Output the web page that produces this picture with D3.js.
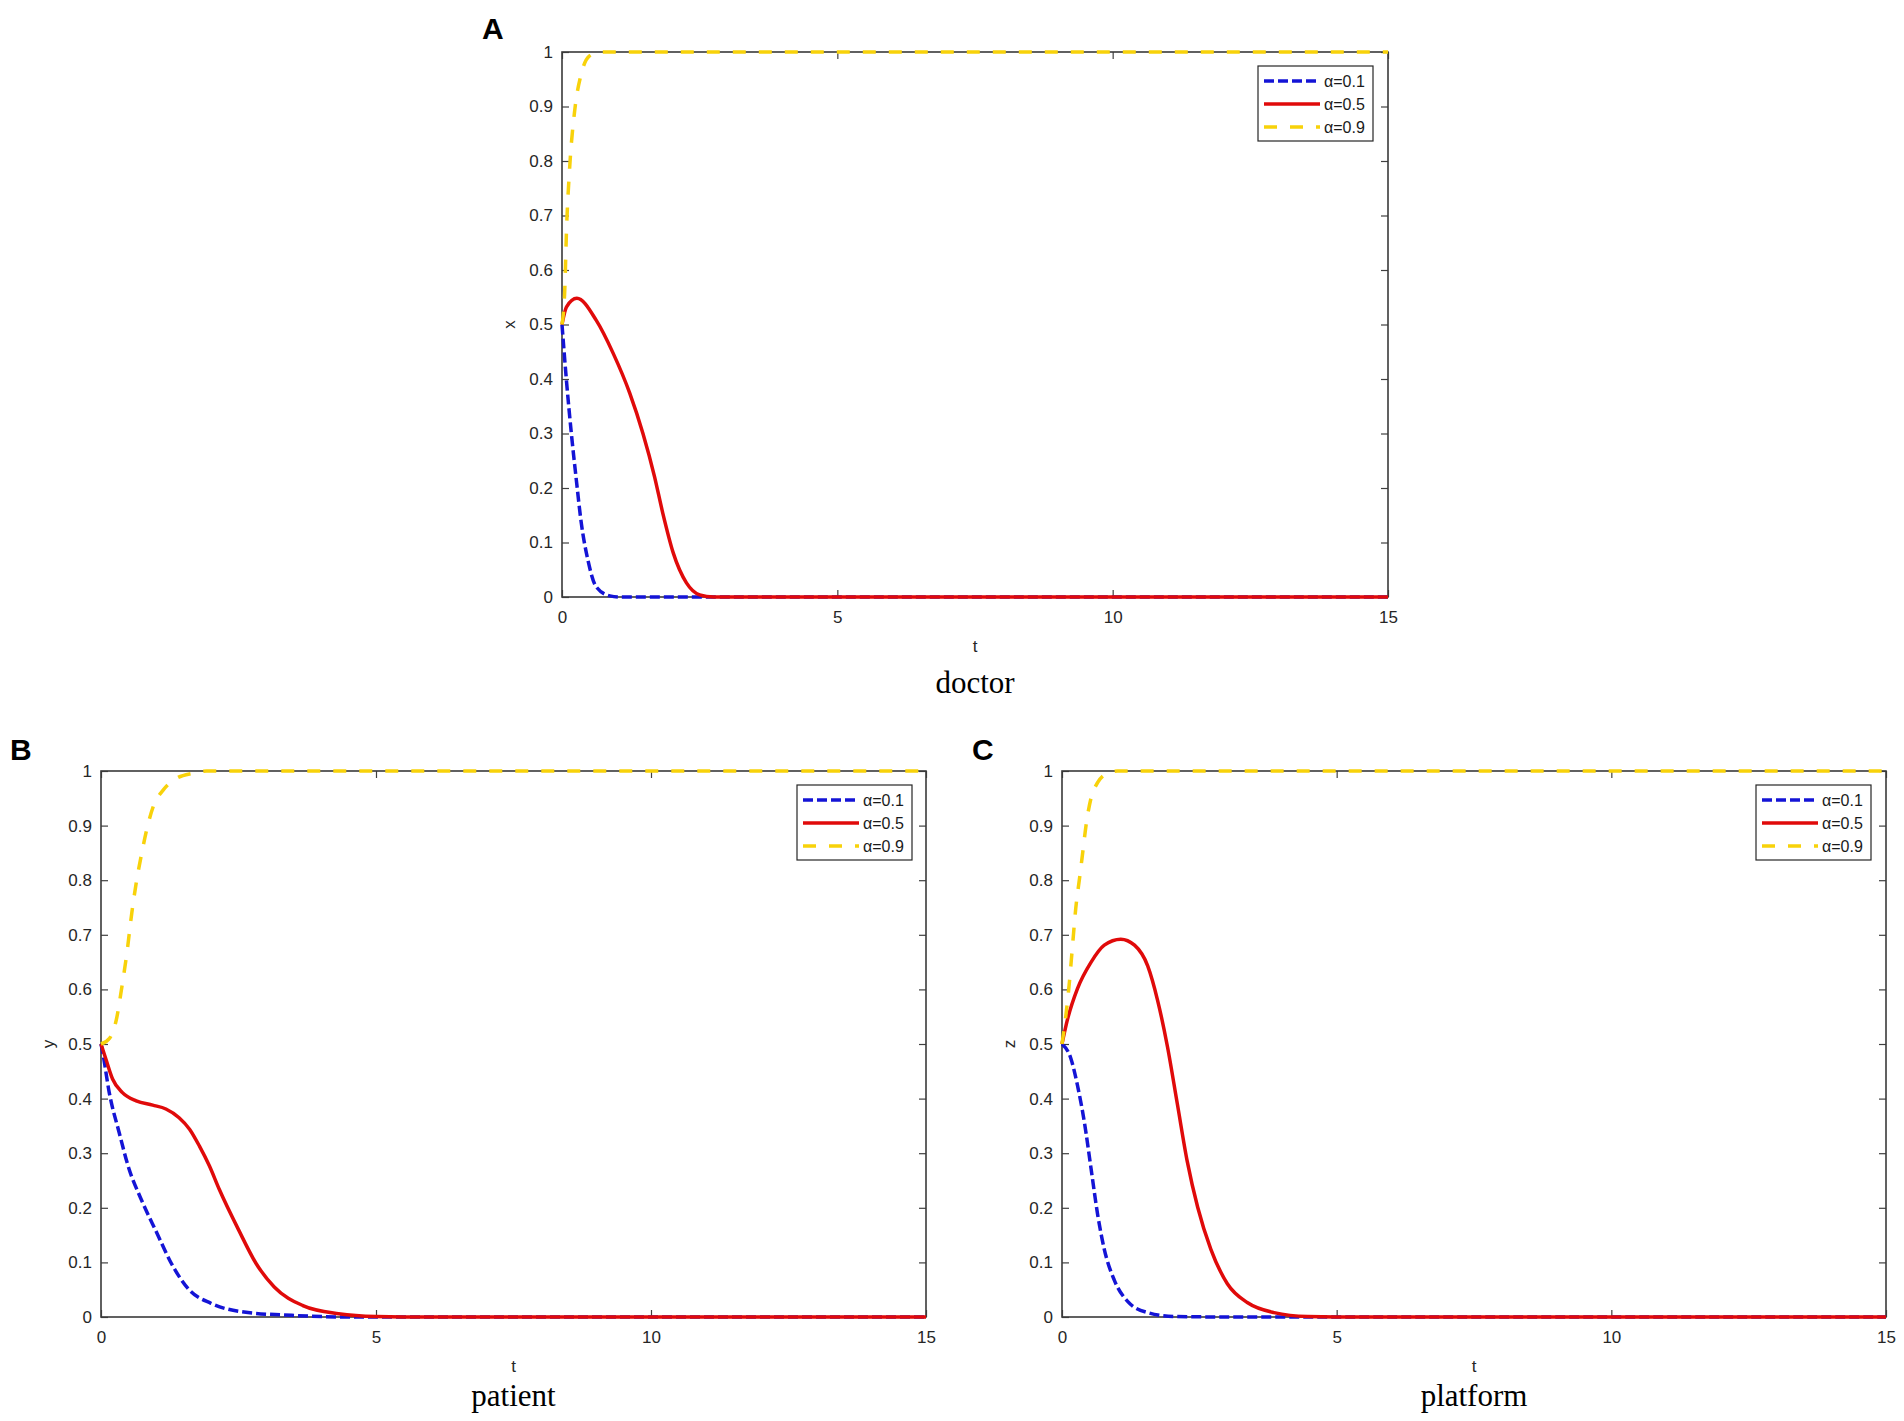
<!DOCTYPE html>
<html lang="en">
<head>
    <meta charset="UTF-8">
    <title>doctor / patient / platform</title>
    <script src="https://cdn.jsdelivr.net/npm/d3@7"></script>
    <style>
        body {margin: 0; background: white;}
        svg {display: block; background: white;}
        .tick text {font-family: "Liberation Sans", Arial, sans-serif; font-size: 17px; fill: #262626;}
        .tick line {stroke: #404040; stroke-width: 1.2;}
    </style>
</head>
<body>
<script>
    const width = 1904;
    const height = 1421;

    // [t, value]
    const doctor01 = [[0,0.5],[0.08,0.398],[0.17,0.300],[0.26,0.215],[0.35,0.136],[0.47,0.068],[0.62,0.019],[0.87,0.002],[1.05,0],[15,0]];
    const doctor05 = [[0,0.5],[0.08,0.532],[0.27,0.548],[0.62,0.508],[0.93,0.447],[1.23,0.374],[1.47,0.300],[1.68,0.221],[1.83,0.154],[2.02,0.081],[2.26,0.026],[2.5,0.004],[2.75,0],[15,0]];
    const doctor09 = [[0,0.5],[0.05,0.563],[0.08,0.667],[0.14,0.789],[0.23,0.892],[0.35,0.96],[0.5,0.993],[0.68,1],[15,1]];

    const patient01 = [[0,0.5],[0.03,0.485],[0.15,0.411],[0.33,0.338],[0.51,0.271],[0.72,0.218],[1.02,0.153],[1.28,0.098],[1.61,0.049],[2.0,0.025],[2.6,0.009],[3.47,0.003],[4.5,0],[15,0]];
    const patient05 = [[0,0.5],[0.09,0.472],[0.21,0.436],[0.39,0.411],[0.64,0.396],[0.94,0.388],[1.18,0.381],[1.42,0.365],[1.61,0.344],[1.79,0.313],[1.97,0.277],[2.15,0.234],[2.5,0.16],[2.82,0.098],[3.15,0.055],[3.67,0.021],[4.32,0.006],[5,0.001],[6,0],[15,0]];
    const patient09 = [[0,0.5],[0.16,0.511],[0.28,0.545],[0.38,0.605],[0.47,0.666],[0.56,0.74],[0.65,0.801],[0.74,0.849],[0.83,0.892],[0.95,0.935],[1.13,0.965],[1.38,0.987],[1.68,0.996],[1.92,1],[15,1]];

    const platform01 = [[0,0.5],[0.16,0.474],[0.28,0.425],[0.41,0.355],[0.53,0.271],[0.65,0.187],[0.77,0.124],[0.95,0.068],[1.19,0.029],[1.56,0.008],[2.04,0.001],[3,0],[15,0]];
    const platform05 = [[0,0.5],[0.1,0.545],[0.28,0.601],[0.53,0.65],[0.77,0.681],[1.07,0.692],[1.32,0.681],[1.56,0.643],[1.74,0.58],[1.92,0.495],[2.1,0.39],[2.28,0.285],[2.47,0.201],[2.71,0.124],[3.01,0.061],[3.38,0.026],[3.86,0.008],[4.47,0.001],[5.5,0],[15,0]];
    const platform09 = [[0,0.5],[0.07,0.552],[0.13,0.608],[0.19,0.678],[0.25,0.748],[0.32,0.804],[0.38,0.853],[0.44,0.902],[0.53,0.951],[0.65,0.979],[0.83,0.996],[1.01,1],[15,1]];

    const legendLabels = ["α=0.1", "α=0.5", "α=0.9"];
    const xTicks = [0, 5, 10, 15];
    const yTicks = [0, 0.1, 0.2, 0.3, 0.4, 0.5, 0.6, 0.7, 0.8, 0.9, 1];

    const styles = [
        {color: "#1414d6", dash: "10,4"},
        {color: "#e00a0a", dash: null},
        {color: "#f8d20a", dash: "13,13"}
    ];

    const panels = [
        {letter: "A", ylab: "x", title: "doctor", series: [doctor01, doctor05, doctor09],
         left: 562, right: 1388, top: 52, bottom: 597, letterX: 482, letterY: 39, titleOff: 96,
         legend: {right: 1373, top: 66, w: 115, h: 75}},
        {letter: "B", ylab: "y", title: "patient", series: [patient01, patient05, patient09],
         left: 101, right: 926, top: 771, bottom: 1317, letterX: 10, letterY: 760, titleOff: 89,
         legend: {right: 912, top: 785, w: 115, h: 75}},
        {letter: "C", ylab: "z", title: "platform", series: [platform01, platform05, platform09],
         left: 1062, right: 1886, top: 771, bottom: 1317, letterX: 972, letterY: 760, titleOff: 89,
         legend: {right: 1871, top: 785, w: 115, h: 75}}
    ];

    const svg = d3.select("body").append("svg")
            .attr("width", width).attr("height", height);

    panels.forEach(drawPanel);

    function drawPanel(p) {
        const g = svg.append("g");
        const x = d3.scaleLinear().domain([0, 15]).range([p.left, p.right]);
        const y = d3.scaleLinear().domain([0, 1]).range([p.bottom, p.top]);

        // axes, ticks pointing inward on all four sides
        g.append("g").attr("transform", `translate(0,${p.bottom})`)
            .call(d3.axisBottom(x).tickValues(xTicks).tickSizeInner(-7).tickSizeOuter(0).tickPadding(14).tickFormat(d => d))
            .call(a => a.select(".domain").remove());
        g.append("g").attr("transform", `translate(0,${p.top})`)
            .call(d3.axisTop(x).tickValues(xTicks).tickSizeInner(-7).tickSizeOuter(0).tickFormat(""))
            .call(a => a.select(".domain").remove());
        g.append("g").attr("transform", `translate(${p.left},0)`)
            .call(d3.axisLeft(y).tickValues(yTicks).tickSizeInner(-7).tickSizeOuter(0).tickPadding(9).tickFormat(d => d))
            .call(a => a.select(".domain").remove());
        g.append("g").attr("transform", `translate(${p.right},0)`)
            .call(d3.axisRight(y).tickValues(yTicks).tickSizeInner(-7).tickSizeOuter(0).tickFormat(""))
            .call(a => a.select(".domain").remove());

        g.append("rect")
            .attr("x", p.left).attr("y", p.top)
            .attr("width", p.right - p.left).attr("height", p.bottom - p.top)
            .style("fill", "none").style("stroke", "#3a3a3a").style("stroke-width", 1.6);

        const line = d3.line()
            .x(d => x(d[0]))
            .y(d => y(d[1]))
            .curve(d3.curveMonotoneX);

        p.series.forEach((s, i) => {
            g.append("path")
                .datum(s)
                .attr("d", line)
                .style("fill", "none")
                .style("stroke", styles[i].color)
                .style("stroke-width", 3.5)
                .style("stroke-dasharray", styles[i].dash);
        });

        // legend
        const lg = g.append("g");
        const lx = p.legend.right - p.legend.w;
        lg.append("rect")
            .attr("x", lx).attr("y", p.legend.top)
            .attr("width", p.legend.w).attr("height", p.legend.h)
            .style("fill", "white").style("stroke", "#262626").style("stroke-width", 1.2);
        legendLabels.forEach((lab, i) => {
            const ry = p.legend.top + 15 + i * 23;
            lg.append("line")
                .attr("x1", lx + 6).attr("x2", lx + 62)
                .attr("y1", ry).attr("y2", ry)
                .style("stroke", styles[i].color)
                .style("stroke-width", 3.5)
                .style("stroke-dasharray", styles[i].dash);
            lg.append("text")
                .attr("x", lx + 66).attr("y", ry + 6)
                .style("font-family", "Liberation Sans, Arial, sans-serif")
                .style("font-size", "16px")
                .style("fill", "#1a1a1a")
                .text(lab);
        });

        // labels
        g.append("text")
            .attr("transform", `translate(${p.left - 47},${(p.top + p.bottom) / 2}) rotate(-90)`)
            .style("text-anchor", "middle")
            .style("font-family", "Liberation Sans, Arial, sans-serif")
            .style("font-size", "17px")
            .style("fill", "#262626")
            .text(p.ylab);

        g.append("text")
            .attr("x", (p.left + p.right) / 2).attr("y", p.bottom + 55)
            .style("text-anchor", "middle")
            .style("font-family", "Liberation Sans, Arial, sans-serif")
            .style("font-size", "17px")
            .style("fill", "#262626")
            .text("t");

        g.append("text")
            .attr("x", (p.left + p.right) / 2).attr("y", p.bottom + p.titleOff)
            .style("text-anchor", "middle")
            .style("font-family", "Liberation Serif, Times New Roman, serif")
            .style("font-size", "31px")
            .style("fill", "black")
            .text(p.title);

        g.append("text")
            .attr("x", p.letterX).attr("y", p.letterY)
            .style("font-family", "Liberation Sans, Arial, sans-serif")
            .style("font-weight", "bold")
            .style("font-size", "30px")
            .style("fill", "black")
            .text(p.letter);
    }
</script>
</body>
</html>
